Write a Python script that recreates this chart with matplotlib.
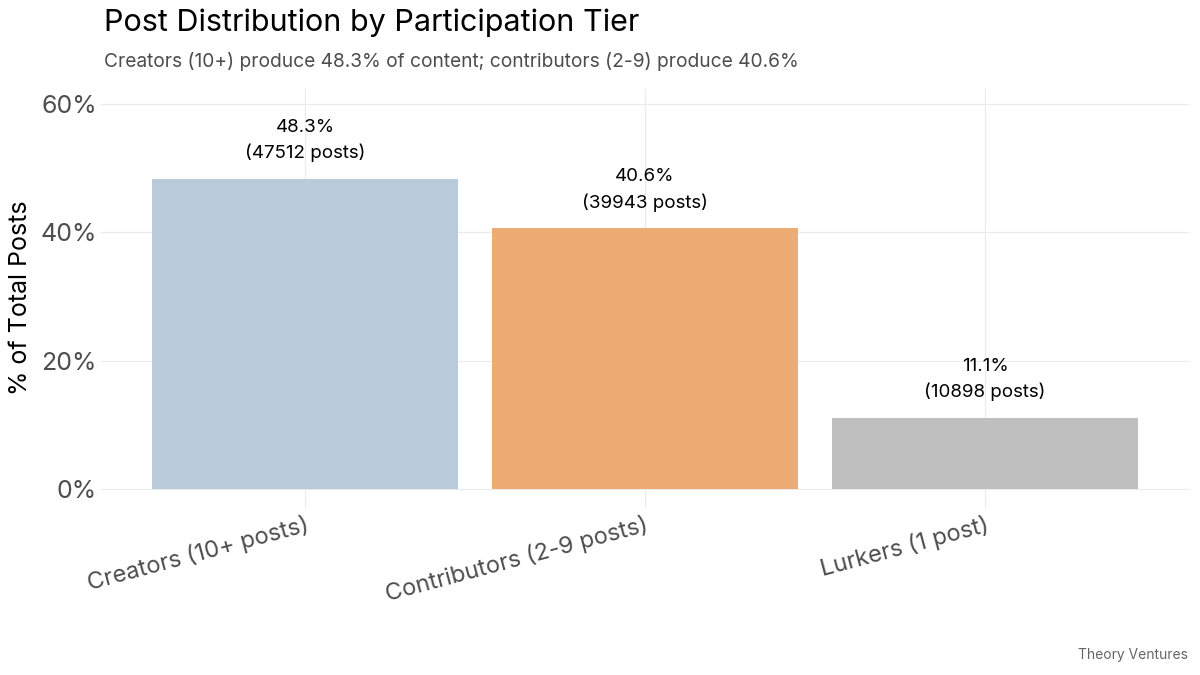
import matplotlib.pyplot as plt
from matplotlib.ticker import FuncFormatter

# data
tiers = ['Creators (10+ posts)', 'Contributors (2-9 posts)', 'Lurkers (1 post)']
pct = [48.3, 40.6, 11.1]
posts = [47512, 39943, 10898]
colors = ['#b9cadb', '#edac73', '#bfbfbf']

plt.rcParams['font.family'] = ['Inter', 'DejaVu Sans']

fig = plt.figure(figsize=(12, 6.75), dpi=100)
ax = fig.add_axes([0.0842, 0.248, 0.9067, 0.6208])

x = range(len(tiers))
ax.bar(x, pct, width=0.9, color=colors, zorder=2)

for i, (p, n) in enumerate(zip(pct, posts)):
    ax.text(i, p + 2.6, f'{p:.1f}%\n({n} posts)', ha='center', va='bottom',
            fontsize=13.5, color='black', linespacing=1.55)

ax.set_xlim(-0.6, 2.6)
ax.set_ylim(-2.9, 62.4)
ax.set_yticks([0, 20, 40, 60])
ax.yaxis.set_major_formatter(FuncFormatter(lambda v, _: f'{v:.0f}%'))
ax.set_xticks(list(x))
ax.set_xticklabels(tiers, rotation=15, ha='right', rotation_mode='anchor')

ax.grid(True, color='#ebebeb', linewidth=0.8, zorder=0)
for s in ax.spines.values():
    s.set_visible(False)
ax.tick_params(axis='y', length=0, labelsize=18, colors='#4d4d4d', pad=3)
ax.tick_params(axis='x', length=0, labelsize=17, colors='#4d4d4d', pad=4)

ax.set_ylabel('% of Total Posts', fontsize=18, color='black', labelpad=6)

fig.text(0.087, 0.966, 'Post Distribution by Participation Tier', fontsize=22,
         color='black', va='center')
fig.text(0.087, 0.909, 'Creators (10+) produce 48.3% of content; contributors (2-9) produce 40.6%',
         fontsize=13.8, color='#4d4d4d', va='center')
fig.text(0.99, 0.03, 'Theory Ventures', fontsize=10, color='#666666', ha='right', va='center')

fig.savefig('out.png', dpi=100)
